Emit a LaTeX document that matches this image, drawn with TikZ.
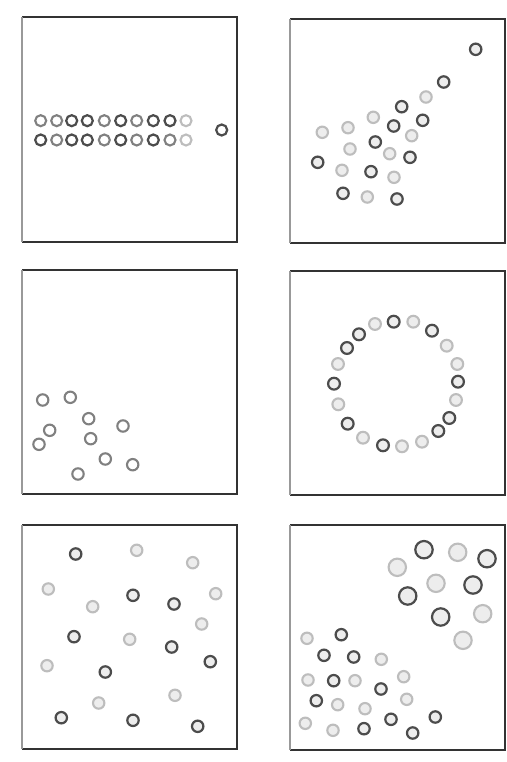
\documentclass[tikz,border=0pt]{standalone}
\begin{document}
\begin{tikzpicture}[x=1pt,y=-1pt,
  frame/.style={draw=black!80,line width=1.1pt},
  leftedge/.style={draw=black!40,line width=1.1pt},
  dk/.style={draw=black!70,line width=2.2pt},
  md/.style={draw=black!50,line width=2.1pt},
  lt/.style={draw=black!26,line width=2.1pt},
  fw/.style={fill=white},
  fg/.style={fill=black!7}]
\useasboundingbox (0,0) rectangle (506,762);
\fill[white] (0,0) rectangle (506,762);
% frames
\foreach \x/\y/\X/\Y in {22/17/237/242, 290/19/505/243, 22/270/237/494, 290/271/505/495, 22/525/237/749, 290/525/505/750}{
  \draw[frame] (\x,\y) -- (\X,\y) -- (\X,\Y) -- (\x,\Y);
  \draw[leftedge] (\x,\y) -- (\x,\Y);
}
% panel 1
\foreach \x/\s in {40.7/md,56.7/md,71.7/dk,87.3/dk,104.3/md,120.7/dk,136.7/md,153.3/dk,170/dk,186/lt}
  \draw[\s,fw] (\x,120.7) circle (5.5);
\foreach \x/\s in {40.7/dk,56.7/md,71.7/dk,87.3/dk,104.3/md,120.7/dk,136.7/md,153.3/dk,170/md,186/lt}
  \draw[\s,fw] (\x,140) circle (5.5);
\draw[dk,fw] (221.7,130) circle (5.5);
% panel 2
\foreach \x/\y/\s in {475.7/49.3/dk,443.7/82/dk,426/97/lt,401.7/106.7/dk,373.3/117.3/lt,422.7/120.3/dk,393.7/126/dk,348/127.7/lt,322.3/132.3/lt,411.7/135.7/lt,375.3/142/dk,350/149/lt,389.7/153.7/lt,410/157.3/dk,317.7/162.3/dk,342/170.3/lt,371/171.7/dk,394/177.3/lt,343/193.3/dk,367.3/197/lt,397/199/dk}
  \draw[\s,fg] (\x,\y) circle (5.7);
% panel 3
\foreach \x/\y in {42.7/400,70.3/397.3,88.7/418.7,49.7/430.3,123/426,90.7/438.7,39/444.3,105.3/459,132.7/464.7,78/474}
  \draw[md,fw] (\x,\y) circle (5.7);
% panel 4
\foreach \x/\y/\s in {393.7/321.7/dk,413.3/321.7/lt,432/330.7/dk,446.7/345.7/lt,457.3/364/lt,458/381.7/dk,456/400/lt,449.3/418/dk,438.3/431/dk,422/441.7/lt,402/446.3/lt,383/445.3/dk,363/437.7/lt,347.7/423.7/dk,338.3/404.3/lt,334/383.7/dk,338/364/lt,347/348/dk,359/334.3/dk,375/324/lt}
  \draw[\s,fg] (\x,\y) circle (5.9);
% panel 5
\foreach \x/\y/\s in {75.7/554/dk,136.7/550.3/lt,192.7/562.7/lt,48.3/589/lt,133/595.3/dk,174/604/dk,215.7/593.7/lt,92.7/606.7/lt,201.7/624/lt,74/636.7/dk,129.7/639.3/lt,171.7/647/dk,210.3/661.7/dk,47/665.7/lt,105.3/672/dk,175/695.3/lt,98.7/703/lt,61.3/717.7/dk,133/720.3/dk,197.7/726.3/dk}
  \draw[\s,fg] (\x,\y) circle (5.7);
% panel 6 big
\foreach \x/\y/\s in {424/549.7/dk,457.7/552.3/lt,487/558.7/dk,397.3/567.3/lt,436/583.3/lt,473/585/dk,407.7/596/dk,482.7/613.7/lt,440.7/617/dk,463/640.3/lt}
  \draw[\s,fg] (\x,\y) circle (8.7);
% panel 6 small
\foreach \x/\y/\s in {307/638.3/lt,341.3/634.7/dk,324/655.3/dk,353.7/657/dk,381.3/659.3/lt,308/680/lt,333.7/680.7/dk,355/680.7/lt,403.7/676.7/lt,381/689/dk,316.3/700.7/dk,337.7/704.7/lt,365/708.7/lt,406.7/699.3/lt,435.3/717/dk,391/719.3/dk,305.3/723.3/lt,333/730.3/lt,364/728.7/dk,412.7/733/dk}
  \draw[\s,fg] (\x,\y) circle (5.7);
\end{tikzpicture}
\end{document}
